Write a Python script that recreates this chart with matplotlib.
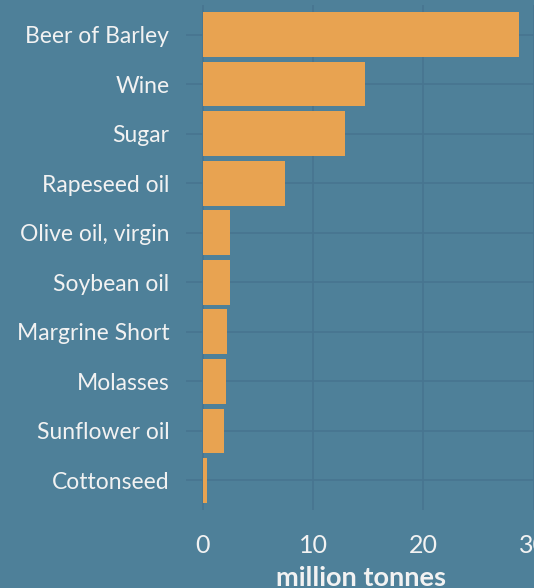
import matplotlib.pyplot as plt

# million tonnes per product
products = ["Beer of Barley", "Wine", "Sugar", "Rapeseed oil", "Olive oil, virgin",
            "Soybean oil", "Margrine Short", "Molasses", "Sunflower oil", "Cottonseed"]
values = [28.7, 14.7, 12.9, 7.5, 2.5, 2.5, 2.2, 2.1, 1.95, 0.4]
xticks = [0, 10, 20, 30]

bg = "#4e8099"
grid = "#477590"
bar_col = "#e8a351"
txt = "#f2f2f2"

plt.rcParams['font.family'] = ['Lato', 'DejaVu Sans']

fig = plt.figure(figsize=(5.34, 5.88), dpi=100, facecolor=bg)
# axes runs a little past the right edge, as in the original crop
ax = fig.add_axes([186 / 534, 78 / 588, 350 / 534, 505 / 588], facecolor=bg)

ypos = list(range(len(products)))[::-1]
ax.barh(ypos, values, height=0.9, color=bar_col, zorder=2)

ax.set_ylim(-0.6, len(products) - 1 + 0.6)
ax.set_xlim(-1.5, 30.2)
ax.set_yticks(ypos)
ax.set_yticklabels(products)
ax.set_xticks(xticks)

ax.grid(True, color=grid, linewidth=1.2, zorder=0)
for s in ax.spines.values():
    s.set_visible(False)
ax.tick_params(axis='both', length=0, colors=txt)
ax.tick_params(axis='y', labelsize=16.5, pad=12)
ax.tick_params(axis='x', labelsize=18, pad=17)
ax.set_xlabel("million tonnes", color=txt, fontsize=19.5, fontweight='bold', labelpad=7)

fig.savefig("out.png", dpi=100, facecolor=bg)
